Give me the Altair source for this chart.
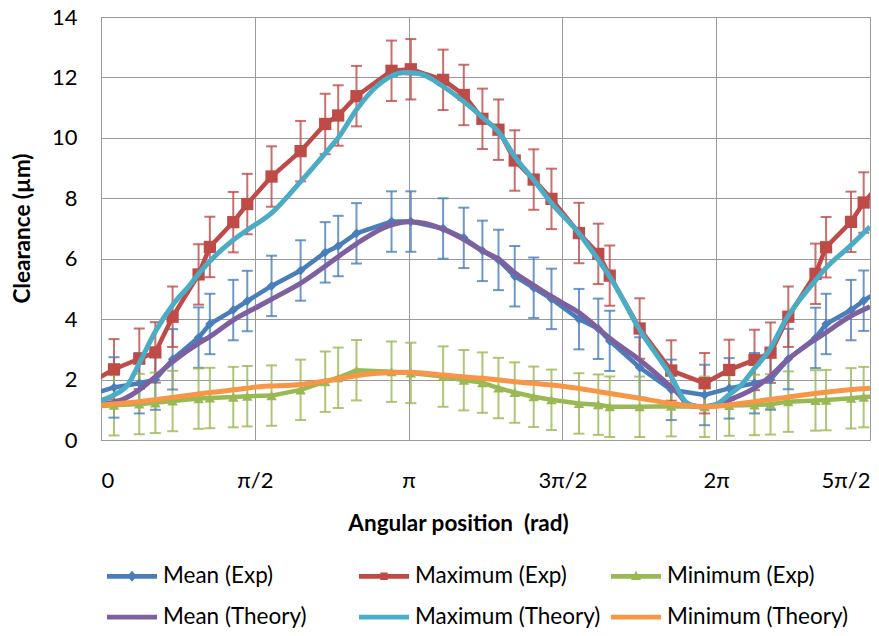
import altair as alt
import pandas as pd

# ---------------- data (angles in degrees; axis labelled in radians) ----------------
SERIES = ["Mean (Exp)", "Maximum (Exp)", "Minimum (Exp)",
          "Mean (Theory)", "Maximum (Theory)", "Minimum (Theory)"]
COLORS = ["#4A7EBB", "#BE4B48", "#98B954", "#7D60A0", "#4BACC6", "#F79646"]

X_TICK_VALUES = [0, 90, 180, 270, 360, 450]
X_TICK_LABELS = ["0", "π/2", "π", "3π/2", "2π", "5π/2"]
Y_TICK_VALUES = [0, 2, 4, 6, 8, 10, 12, 14]

ANGLE_EXP = [-6.8, 7.6, 22.4, 31.8, 41.9, 57.1, 63.7, 77.4, 85.6, 99.8,
             116.8, 131.2, 138.8, 149.5, 170.0, 181.3, 200.2, 212.3, 223.2, 232.6,
             242.1, 253.2, 263.6, 279.7, 291.0, 297.7, 315.2, 333.7, 353.2, 367.6,
             382.4, 391.8, 402.2, 418.1, 424.3, 438.9, 446.3, 459.8]
MEAN_EXP = [1.49, 1.74, 1.88, 2.00, 2.67, 3.39, 3.84, 4.30, 4.60, 5.10,
            5.61, 6.21, 6.42, 6.84, 7.23, 7.23, 7.00, 6.69, 6.26, 5.96,
            5.42, 5.04, 4.67, 4.00, 3.68, 3.28, 2.40, 1.66, 1.49, 1.71,
            1.88, 2.00, 2.68, 3.38, 3.84, 4.30, 4.61, 5.10]
MAX_EXP = [1.88, 2.34, 2.69, 2.90, 4.08, 5.48, 6.39, 7.21, 7.81, 8.72,
           9.56, 10.46, 10.74, 11.38, 12.22, 12.27, 11.92, 11.42, 10.63, 10.27,
           9.25, 8.62, 7.98, 6.85, 6.16, 5.44, 3.69, 2.30, 1.88, 2.32,
           2.65, 2.89, 4.08, 5.50, 6.38, 7.22, 7.86, 8.72]
MIN_EXP = [1.10, 1.15, 1.19, 1.23, 1.29, 1.37, 1.39, 1.42, 1.45, 1.47,
           1.66, 1.93, 2.06, 2.31, 2.26, 2.22, 2.10, 1.98, 1.90, 1.72,
           1.57, 1.43, 1.33, 1.21, 1.17, 1.10, 1.10, 1.12, 1.10, 1.14,
           1.16, 1.18, 1.27, 1.31, 1.32, 1.38, 1.42, 1.47]
ERR = 1.0  # half-length of the error bars (µm)

ANGLE_MEAN_TH = [0, 7.6, 22.4, 31.8, 41.9, 57.1, 63.7, 77.4, 93.0, 99.8,
                 116.9, 131.4, 139.4, 149.9, 170.0, 180.7, 200.2, 211.9, 223.2, 233.3,
                 242.1, 253.0, 263.6, 271.3, 280.1, 291.4, 297.7, 315.2, 333.3, 338.6,
                 343.4, 353.3, 360, 367.3, 382.1, 391.4, 401.6, 417.5, 424.0, 438.0, 450]
MEAN_TH = [1.19, 1.24, 1.66, 2.10, 2.59, 3.20, 3.42, 3.97, 4.45, 4.66,
           5.19, 5.76, 6.09, 6.51, 7.12, 7.22, 6.98, 6.65, 6.27, 5.96,
           5.54, 5.13, 4.75, 4.50, 4.20, 3.67, 3.37, 2.65, 1.77, 1.49,
           1.16, 1.10, 1.15, 1.32, 1.71, 2.10, 2.65, 3.31, 3.55, 4.08, 4.41]

ANGLE_MAX_TH = [0, 7.6, 15.6, 22.4, 31.8, 41.9, 52.0, 57.1, 77.4, 85.6,
                99.8, 116.8, 131.2, 138.8, 149.5, 161.2, 170.0, 177.8, 186.6, 200.2,
                212.3, 223.2, 233.3, 242.1, 253.2, 263.6, 279.7, 291.0, 297.7, 315.2,
                333.7, 342.5, 350.3, 360, 367.3, 374.7, 382.1, 391.4, 400.6, 417.5,
                424.0, 438.0, 450]
MAX_TH = [1.30, 1.49, 1.82, 2.54, 3.59, 4.47, 5.13, 5.50, 6.62, 6.95,
          7.51, 8.55, 9.49, 10.00, 10.93, 11.70, 12.05, 12.16, 12.12, 11.70,
          11.20, 10.68, 10.15, 9.38, 8.61, 7.84, 6.84, 5.96, 5.41, 3.65,
          2.10, 1.25, 1.10, 1.18, 1.49, 1.82, 2.35, 3.00, 3.97, 5.24,
          5.68, 6.40, 7.06]

ANGLE_MIN_TH = [0, 7.6, 22.4, 41.9, 63.7, 85.3, 90, 116.9, 131.4, 148.5,
                170, 180.7, 200.2, 223.2, 242.1, 271.3, 291.4, 315.2, 333.3, 342.5,
                353.3, 360, 367.3, 382.1, 400.6, 417.5, 438, 450]
MIN_TH = [1.16, 1.19, 1.27, 1.41, 1.57, 1.71, 1.75, 1.84, 1.95, 2.12,
          2.23, 2.24, 2.15, 2.04, 1.93, 1.77, 1.60, 1.38, 1.21, 1.14,
          1.10, 1.12, 1.16, 1.27, 1.41, 1.54, 1.66, 1.71]

# ---------------- tables ----------------
exp_rows = []
for name, vals in [(SERIES[0], MEAN_EXP), (SERIES[1], MAX_EXP), (SERIES[2], MIN_EXP)]:
    for a, v in zip(ANGLE_EXP, vals):
        exp_rows.append({"angle": a, "value": v, "lo": v - ERR, "hi": v + ERR, "series": name})
exp_df = pd.DataFrame(exp_rows)

th_rows = []
for name, angs, vals in [(SERIES[3], ANGLE_MEAN_TH, MEAN_TH),
                         (SERIES[4], ANGLE_MAX_TH, MAX_TH),
                         (SERIES[5], ANGLE_MIN_TH, MIN_TH)]:
    for a, v in zip(angs, vals):
        th_rows.append({"angle": a, "value": v, "series": name})
th_df = pd.DataFrame(th_rows)

# ---------------- legend symbols: line with marker (SVG paths in the unit box) ----------------
FONT = "Lato"
BAR = "M-1,-0.095L1,-0.095L1,0.095L-1,0.095Z"
DIAMOND = "M0,-0.22L0.19,0L0,0.22L-0.19,0Z"
SQUARE = "M-0.15,-0.15L0.15,-0.15L0.15,0.15L-0.15,0.15Z"
TRIANGLE = "M0,-0.22L0.2,0.15L-0.2,0.15Z"
LEGEND_SHAPES = [BAR + DIAMOND, BAR + SQUARE, BAR + TRIANGLE, BAR, BAR, BAR]

legend = alt.Legend(
    title=None, orient="none", legendX=6, legendY=534,
    direction="horizontal", columns=3, gridAlign="all",
    columnPadding=10, rowPadding=4, padding=0,
    labelFont=FONT, labelFontSize=22.5, labelColor="#000000", labelOffset=6,
    labelLimit=400, symbolSize=2500, symbolOpacity=1, symbolStrokeWidth=0,
)

color_scale = alt.Scale(domain=SERIES, range=COLORS)
color = alt.Color("series:N", scale=color_scale, legend=None)
color_leg = alt.Color("series:N", scale=color_scale, legend=legend)
shape_leg = alt.Shape("series:N", scale=alt.Scale(domain=SERIES, range=LEGEND_SHAPES), legend=legend)

label_expr = " : ".join(
    "datum.value == %d ? '%s'" % (v, l) for v, l in zip(X_TICK_VALUES[:-1], X_TICK_LABELS[:-1])
) + " : '%s'" % X_TICK_LABELS[-1]

YSCALE = alt.Scale(domain=[0, 14], nice=False)
x = alt.X("angle:Q",
          scale=alt.Scale(domain=[0, 450], nice=False, zero=False),
          axis=alt.Axis(values=X_TICK_VALUES, labelExpr=label_expr, labelFlush=True,
                        title="Angular position\u00a0\u00a0(rad)", titleX=357, titleY=83,
                        titleAlign="center", titleBaseline="middle",
                        labelPadding=30, ticks=False, domain=False,
                        grid=True, gridColor="#9A9A9A"))
y_axis = alt.Axis(values=Y_TICK_VALUES, title="Clearance (µm)", titleX=-79, titleY=211,
                  titleAngle=270, titleAlign="center", titleBaseline="middle",
                  labelPadding=24, ticks=False, domain=False,
                  grid=True, gridColor="#9A9A9A")
y = alt.Y("value:Q", scale=YSCALE, axis=y_axis)

base_exp = alt.Chart(exp_df)

# layer that draws nothing; it only carries the legend (colour + custom symbol shapes)
legend_layer = alt.Chart(th_df).transform_filter("false").mark_point(
    filled=True, opacity=1, size=2500).encode(x=x, y=y, color=color_leg, shape=shape_leg)

err_rule = base_exp.mark_rule(strokeWidth=2, opacity=0.8, clip=True).encode(
    x=x, y=alt.Y("lo:Q", scale=YSCALE, axis=y_axis), y2="hi:Q", color=color)
err_lo = base_exp.mark_tick(orient="horizontal", size=11, thickness=2, opacity=0.8, clip=True).encode(
    x=x, y=alt.Y("lo:Q", scale=YSCALE, axis=y_axis), color=color)
err_hi = base_exp.mark_tick(orient="horizontal", size=11, thickness=2, opacity=0.8, clip=True).encode(
    x=x, y=alt.Y("hi:Q", scale=YSCALE, axis=y_axis), color=color)

exp_lines = base_exp.mark_line(strokeWidth=4.5, clip=True).encode(
    x=x, y=y, color=color, detail="series:N")

markers = []
for name, shp, sz in [(SERIES[0], "diamond", 90), (SERIES[1], "square", 150), (SERIES[2], "triangle-up", 110)]:
    markers.append(
        base_exp.transform_filter(alt.datum.series == name)
        .mark_point(shape=shp, size=sz, filled=True, opacity=1, clip=True)
        .encode(x=x, y=y, color=color)
    )

th_lines = alt.Chart(th_df).mark_line(strokeWidth=5, interpolate="monotone", clip=True).encode(
    x=x, y=y, color=color, detail="series:N")

chart = alt.layer(legend_layer, err_rule, err_lo, err_hi, exp_lines, *markers, th_lines).properties(
    width=769, height=423,
    autosize=alt.AutoSizeParams(type="none"),
    padding={"left": 101, "top": 17, "right": 9, "bottom": 196},
    background="white",
).configure_view(
    stroke="#8C8C8C", strokeWidth=1
).configure_axis(
    labelFont=FONT, labelFontSize=22, labelColor="#000000",
    titleFont=FONT, titleFontSize=22.5, titleFontWeight="bold", titleColor="#000000",
    gridWidth=1,
)

chart.save("out.html", embed_options={"renderer": "svg", "actions": False})
